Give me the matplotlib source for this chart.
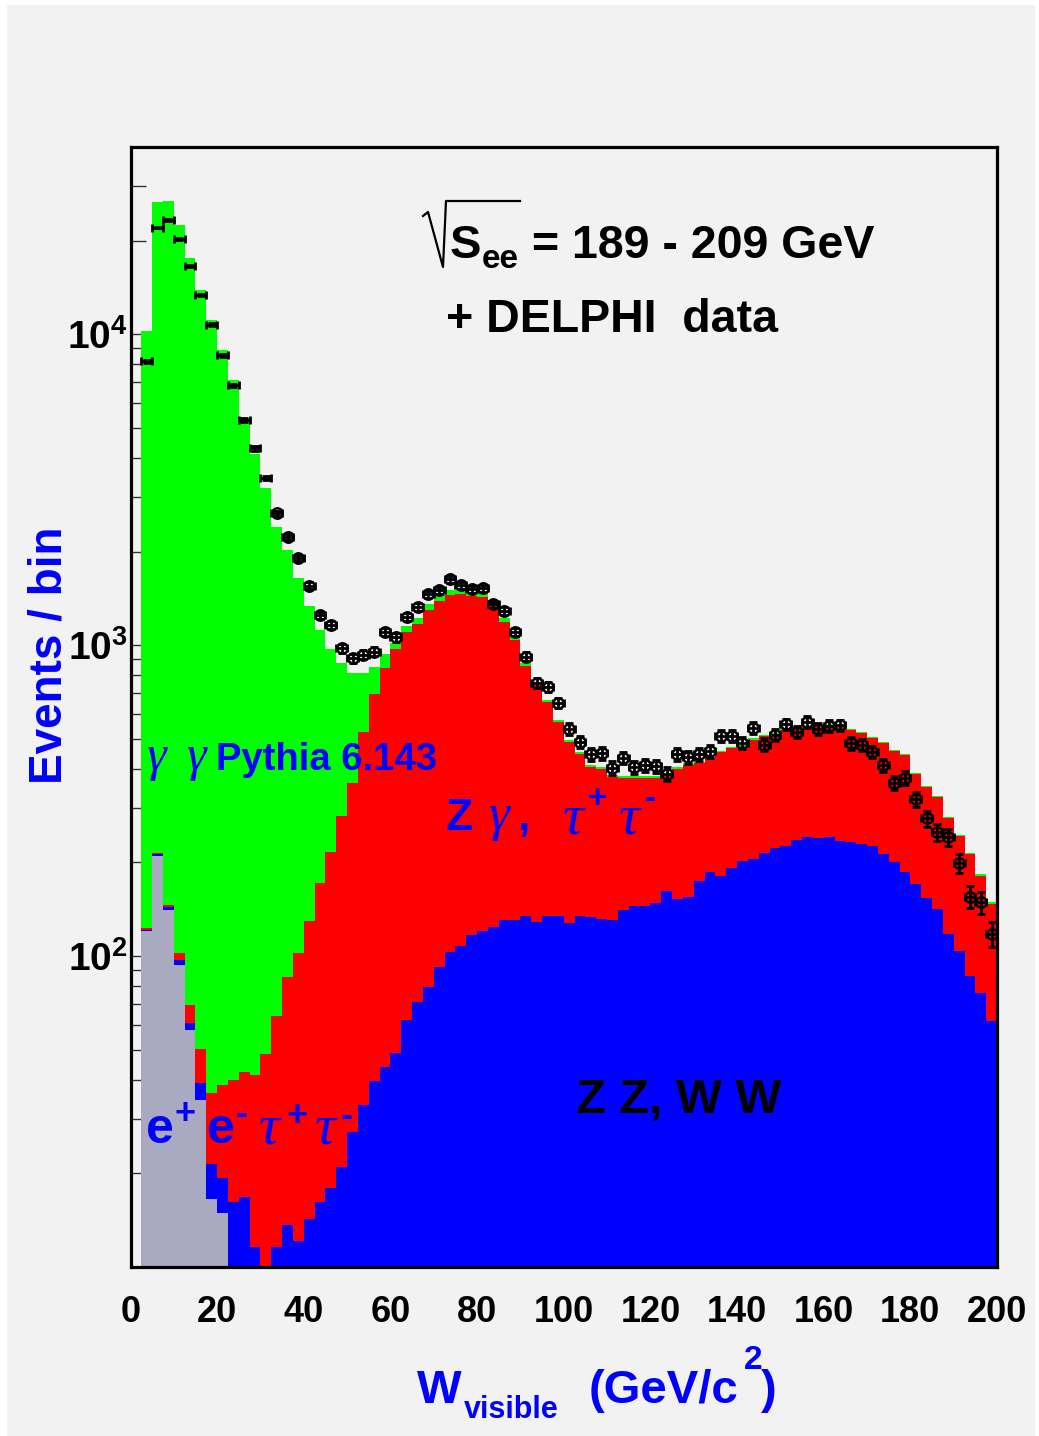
import numpy as np
import matplotlib
matplotlib.use("Agg")
import matplotlib.pyplot as plt
from matplotlib.lines import Line2D
from matplotlib.patches import Rectangle
from matplotlib.ticker import FixedLocator, NullFormatter

# ── Data (2.5 GeV bins from 2.5 to 200 GeV) ─────────────────────────────────
bin_width = 2.5
bin_edges = np.arange(2.5, 200.01, bin_width)

# e+e- -> e+e- tau+tau- (grey), only the lowest bins
ee_tautau = [120, 210, 141, 93.5, 57.8, 34.4, 16.6, 14.9] + [0] * 71

# ZZ, WW (blue)
zz_ww = [1.5, 2.5, 2.5, 3.6, 3.0, 4.6, 4.9, 4.4,
         16.2, 16.8, 11.6, 8, 11.6, 13.6, 12.1, 14.3, 16.2, 17.9, 21.0, 27.2,
         33.2, 39.6, 44.1, 48.7, 62.3, 71.3, 79.6, 92.4, 103, 108,
         117, 120, 124, 131, 131, 135, 129, 135, 135, 128,
         135, 134, 132, 131, 141, 145, 145, 148, 162, 153,
         155, 174, 187, 181, 192, 202, 205, 214, 223, 226,
         237, 241, 239, 242, 235, 233, 230, 226, 213, 200,
         187, 170, 154, 142, 118, 104, 86, 76, 62]

# Z gamma, tau+tau- (red)
zg_tautau = [1.3, 2.5, 2.5, 5.4, 8.8, 11.1, 14.7, 19.2, 23.7, 25.6,
             30.0, 40.4, 52.5, 72.2, 89.9, 115, 155, 198, 261, 332,
             492, 659, 798, 926, 1038, 1094, 1220, 1298, 1342, 1352,
             1318, 1310, 1241, 1059, 904, 719, 618, 519, 429, 359,
             312, 271, 268, 245, 232, 229, 229, 226, 218, 248,
             258, 243, 245, 272, 274, 270, 291, 295, 293, 309,
             307, 303, 309, 310, 313, 299, 291, 275, 272, 255,
             255, 214, 195, 183, 160, 140, 127, 105, 85]

# gamma gamma Pythia 6.143 (green)
gg_pythia = [10080, 26385, 26655, 22400, 17530, 13850, 11060, 8840, 7070, 5330,
             4090, 3160, 2336, 1944, 1538, 1211, 949, 754, 592, 452,
             286, 152, 93, 40, 50, 55, 60, 60, 55, 50,
             45, 40, 35, 30, 25, 20, 15, 12, 10, 8,
             7, 6, 6, 6, 6, 5, 5, 5, 5, 5,
             5, 5, 5, 5, 5, 5, 5, 5, 5, 5,
             5, 5, 5, 5, 5, 5, 5, 4, 4, 4,
             4, 3, 3, 3, 3, 2, 2, 2, 2]

# DELPHI data
delphi = [8190, 22030, 23260, 20210, 16580, 13380, 10740, 8560, 6855, 5290,
          4290, 3450, 2652, 2230, 1912, 1551, 1246, 1160, 976, 906,
          931, 952, 1104, 1059, 1233, 1328, 1459, 1503, 1630, 1559,
          1511, 1522, 1354, 1286, 1104, 917, 757, 734, 652, 539,
          488, 446, 449, 403, 434, 405, 411, 408, 385, 446,
          437, 446, 456, 510, 510, 485, 542, 479, 514, 557,
          526, 567, 537, 549, 553, 483, 477, 454, 411, 361,
          375, 319, 277, 251, 241, 199, 155, 149, 118]

x_ticks = list(range(0, 201, 20))
y_major = [1e2, 1e3, 1e4]
y_labels = [r"$10^{2}$", r"$10^{3}$", r"$10^{4}$"]

# ── Style ─────────────────────────────────────────────────────────────────────
BG = "#f2f2f2"
GREEN, RED, BLUE, GREY = "#00ff00", "#ff0000", "#0000ff", "#aaa9c2"
W, H = 1039, 1436

plt.rcParams.update({
    "font.family": "Liberation Sans",
    "font.weight": "bold",
    "mathtext.fontset": "custom",
    "mathtext.rm": "Liberation Sans:bold",
    "mathtext.bf": "Liberation Sans:bold",
    "mathtext.it": "Liberation Sans:bold",
})


def fx(px):
    return px / W


def fy(py):
    return 1 - py / H


fig = plt.figure(figsize=(W / 100, H / 100), dpi=100, facecolor="white")
fig.patches.append(Rectangle((fx(7), 0), fx(1035) - fx(7), fy(5), transform=fig.transFigure,
                             facecolor=BG, edgecolor="none", zorder=-10))

ax = fig.add_axes([fx(130.5), fy(1267), fx(997) - fx(130.5), fy(147) - fy(1267)])
ax.set_facecolor(BG)
ax.set_yscale("log")
ax.set_xlim(0, 200)
ax.set_ylim(10, 4e4)
ax.set_axisbelow(True)

# stacked histograms, drawn superimposed from the top down
gg = np.array(gg_pythia)
zg = np.array(zg_tautau)
zw = np.array(zz_ww)
ee = np.array(ee_tautau)
ax.stairs(ee + zw + zg + gg, bin_edges, baseline=0, fill=True, color=GREEN, zorder=1)
ax.stairs(ee + zw + zg, bin_edges, baseline=0, fill=True, color=RED, zorder=1.1)
ax.stairs(ee + zw, bin_edges, baseline=0, fill=True, color=BLUE, zorder=1.2)
ax.stairs(ee, bin_edges, baseline=0, fill=True, color=GREY, zorder=1.3)

# data points
centers = bin_edges[:-1] + bin_width / 2
data = np.array(delphi, dtype=float)
ax.errorbar(centers, data, yerr=np.sqrt(data), xerr=bin_width / 2, fmt="none",
            ecolor="black", elinewidth=2.0, capsize=3, capthick=2.0, zorder=3)
circ = centers > 32
ax.plot(centers[circ], data[circ], "o", mfc="none", mec="black", ms=7.5, mew=1.8, zorder=3)

# axes cosmetics
for s in ax.spines.values():
    s.set_linewidth(2.3)
    s.set_zorder(4)
ax.set_xticks(x_ticks)
ax.set_xticklabels([str(t) for t in x_ticks], fontsize=26, fontweight="bold")
ax.tick_params(axis="x", direction="in", length=0, pad=20)
ax.yaxis.set_major_locator(FixedLocator(y_major))
ax.set_yticklabels(y_labels, fontsize=28)
minor = [m * 10 ** e for e in range(1, 5) for m in range(2, 10) if m * 10 ** e <= 4e4]
ax.yaxis.set_minor_locator(FixedLocator(minor))
ax.yaxis.set_minor_formatter(NullFormatter())
ax.tick_params(axis="y", which="both", direction="in", length=11, width=1.0,
               color="#333333", pad=2)

# ── Texts ─────────────────────────────────────────────────────────────────────
fig.add_artist(Line2D([fx(423), fx(428), fx(443), fx(446), fx(520)],
                      [fy(216), fy(212), fy(267), fy(201), fy(201)],
                      transform=fig.transFigure, color="black", lw=1.6))
fig.text(fx(450), fy(258), "S", size=34, ha="left", va="baseline")
fig.text(fx(482), fy(268), "ee", size=24, ha="left", va="baseline")
fig.text(fx(532), fy(258), "= 189 - 209 GeV", size=33.5, ha="left", va="baseline")
fig.text(fx(446), fy(332), "+ DELPHI  data", size=33.5, ha="left", va="baseline")

fig.text(fx(50), fy(655), "Events / bin", size=33, color=BLUE, rotation=90,
         ha="center", va="center")

serif = dict(family="Liberation Serif", weight="normal", style="italic", color=BLUE,
             ha="left", va="baseline")
sans = dict(color=BLUE, ha="left", va="baseline")

fig.text(fx(146), fy(770), "γ", size=36, **serif)
fig.text(fx(186), fy(770), "γ", size=36, **serif)
fig.text(fx(216), fy(770), "Pythia 6.143", size=27.5, **sans)

fig.text(fx(446), fy(830), "Z", size=32, **sans)
fig.text(fx(488), fy(830), "γ", size=38, **serif)
fig.text(fx(518), fy(830), ",", size=32, **sans)
fig.text(fx(563), fy(833), "τ", size=42, **serif)
fig.text(fx(588), fy(808), "+", size=24, **sans)
fig.text(fx(619), fy(833), "τ", size=42, **serif)
fig.text(fx(645), fy(808), "-", size=24, **sans)

fig.text(fx(146), fy(1143), "e", size=36, **sans)
fig.text(fx(174), fy(1124), "+", size=26, **sans)
fig.text(fx(207), fy(1143), "e", size=36, **sans)
fig.text(fx(236), fy(1124), "-", size=26, **sans)
fig.text(fx(259), fy(1143), "τ", size=42, **serif)
fig.text(fx(286), fy(1126), "+", size=26, **sans)
fig.text(fx(315), fy(1143), "τ", size=42, **serif)
fig.text(fx(341), fy(1126), "-", size=26, **sans)

fig.text(fx(576), fy(1112), "Z Z, W W", size=35, color="black", ha="left", va="baseline")

fig.text(fx(417), fy(1403), "W", size=34, **sans)
fig.text(fx(464), fy(1418), "visible", size=22, **sans)
fig.text(fx(589), fy(1403), "(GeV/c", size=34, **sans)
fig.text(fx(744), fy(1369), "2", size=24, **sans)
fig.text(fx(761), fy(1403), ")", size=34, **sans)

fig.savefig("out.png", dpi=100, facecolor=fig.get_facecolor())
